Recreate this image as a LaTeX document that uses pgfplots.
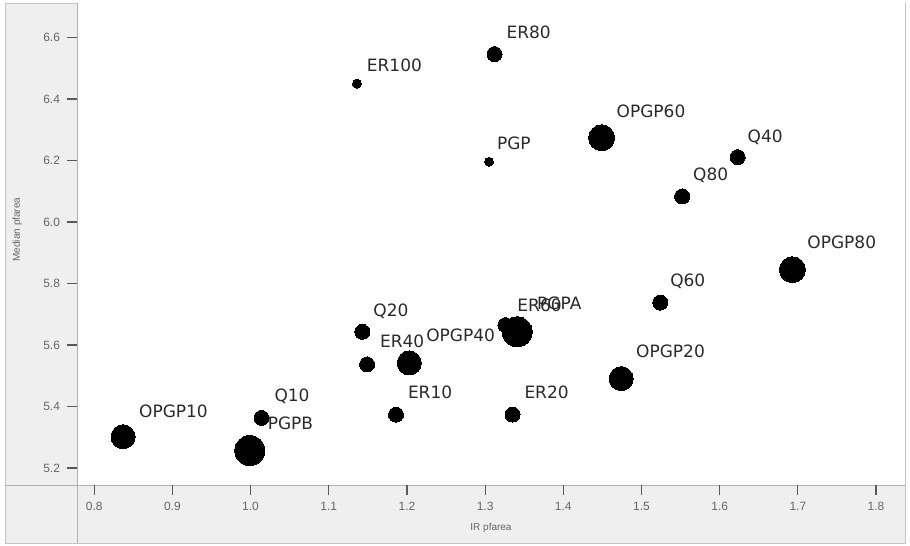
\documentclass[border=0pt]{standalone}
\usepackage{fontspec}
\setmainfont{DejaVu Sans}
\newfontfamily\axisfont{Liberation Sans}
\usepackage{pgfplots}
\usepackage{pgfplotstable}
\pgfplotsset{compat=1.18}

\definecolor{panel}{HTML}{EFEFEF}
\definecolor{framec}{HTML}{C4C4C4}
\definecolor{sepc}{HTML}{B0B0B0}
\definecolor{ticktext}{HTML}{666666}
\definecolor{labtext}{HTML}{2A2A2A}

% label, x, y, label offset from the dot (px); one table per bubble size
\pgfplotstableread{
label  x      y      dx  dy
ER100  1.136  6.450  10  -18
PGP    1.305  6.196  8   -18
}\small

\pgfplotstableread{
label  x      y      dx  dy
ER80   1.312  6.546  12  -22
Q40    1.623  6.211  10  -20
Q80    1.552  6.083  11  -21
Q60    1.524  5.738  10  -21
Q20    1.143  5.643  11  -21
ER40   1.149  5.537  13  -23
ER60   1.326  5.665  12  -20
ER10   1.186  5.374  12  -22
ER20   1.335  5.374  12  -22
Q10    1.014  5.363  13  -22
}\medium

\pgfplotstableread{
label  x      y      dx  dy
OPGP20 1.474  5.491  15  -27
OPGP40 1.203  5.542  17  -28
OPGP10 0.837  5.302  16  -25
}\large

\pgfplotstableread{
label  x      y      dx  dy
OPGP60 1.449  6.274  15  -26
OPGP80 1.693  5.845  15  -27
}\larger

\pgfplotstableread{
label  x      y      dx  dy
PGPA   1.341  5.643  20  -29
PGPB   0.999  5.257  18  -27
}\largest

\begin{document}
\begin{tikzpicture}
\useasboundingbox (-38.5pt,-30.5pt) rectangle (416.5pt,242.5pt);
\fill[panel, draw=framec] (-36pt,-29pt) rectangle (414pt,241pt);
\fill[white] (0,0) rectangle (414pt,241pt);
\draw[sepc] (-36pt,0) -- (414pt,0);
\draw[sepc] (0,-29pt) -- (0,241pt);
\begin{axis}[
  scale only axis, width=414pt, height=241pt,
  xmin=0.778, xmax=1.837, ymin=5.145, ymax=6.712,
  axis line style={draw=none},
  xtick={0.8,0.9,1.0,1.1,1.2,1.3,1.4,1.5,1.6,1.7,1.8},
  ytick={5.2,5.4,5.6,5.8,6.0,6.2,6.4,6.6},
  xtick pos=left, ytick pos=left, tick align=outside,
  major tick length=5pt,
  tick style={black!65, line width=0.6pt},
  /pgf/number format/assume math mode=true,
  xticklabel style={/pgf/number format/fixed, /pgf/number format/fixed zerofill, /pgf/number format/precision=1},
  yticklabel style={/pgf/number format/fixed, /pgf/number format/fixed zerofill, /pgf/number format/precision=1},
  ticklabel style={font=\axisfont\fontsize{6}{7}\selectfont, text=ticktext},
  xlabel={IR pfarea}, ylabel={Median pfarea},
  every axis x label/.style={at={(axis description cs:0.5,-0.09)}, anchor=center},
  every axis y label/.style={at={(axis description cs:-0.072,0.53)}, rotate=90, anchor=center},
  label style={font=\axisfont\fontsize{5}{6}\selectfont, text=ticktext},
  clip=false,
  bubbles/.style={
    only marks, mark=*, black, mark options={fill=black, draw=black, line width=0pt},
    mark size=#1,
    point meta=explicit symbolic,
    visualization depends on={\thisrow{dx}*0.5 \as \ddx},
    visualization depends on={-\thisrow{dy}*0.5 \as \ddy},
    nodes near coords,
    nodes near coords style={anchor=west, inner sep=0pt, xshift=\ddx pt, yshift=\ddy pt,
      font=\fontsize{8.5}{10}\selectfont, text=labtext},
  },
]
\addplot[bubbles=2.25pt] table[x=x, y=y, meta=label] {\small};
\addplot[bubbles=3.75pt] table[x=x, y=y, meta=label] {\medium};
\addplot[bubbles=6pt]    table[x=x, y=y, meta=label] {\large};
\addplot[bubbles=6.5pt]  table[x=x, y=y, meta=label] {\larger};
\addplot[bubbles=7.5pt]  table[x=x, y=y, meta=label] {\largest};
\end{axis}
\end{tikzpicture}
\end{document}
